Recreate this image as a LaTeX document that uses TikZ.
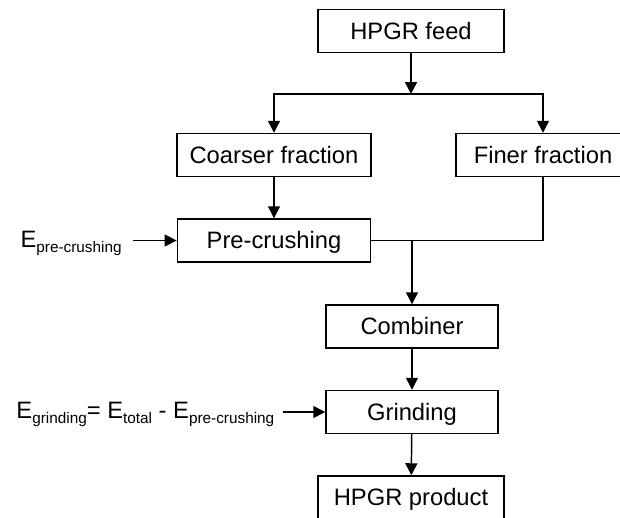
\documentclass[tikz,border=0pt]{standalone}
\usepackage{fontspec}
\setmainfont{Liberation Sans}
\usetikzlibrary{arrows.meta}
\newcommand{\esub}[1]{\raisebox{-3.75pt}{\fontsize{11.5}{12}\selectfont #1}}

\begin{document}
\begin{tikzpicture}[x=0.75pt,y=-0.75pt,>={Triangle[length=9pt,width=9pt]},
line width=1.1pt,
box/.style={draw,minimum height=32.25pt,inner sep=0pt,
text height=12.7pt,text depth=0pt,font=\fontsize{17.8}{21}\selectfont},
energy/.style={inner xsep=6pt,inner ysep=0pt,anchor=east,
text height=12.7pt,text depth=0pt,font=\fontsize{17.8}{21}\selectfont}]
\clip (0,0) rectangle (620,517);
% units
\node[box,minimum width=139.5pt] (feed) at (411,31) {HPGR feed};
\node[box,minimum width=145.5pt] (coarse) at (274,155) {Coarser fraction};
\node[box,minimum width=130.5pt] (fine) at (543,155) {Finer fraction};
\node[box,minimum width=145pt] (precrush) at (274,240.5) {Pre-crushing};
\node[box,minimum width=129pt] (combiner) at (412,326.5) {Combiner};
\node[box,minimum width=129pt] (grinding) at (412,412) {Grinding};
\node[box,minimum width=139.5pt] (product) at (411,497.5) {HPGR product};
% energy inputs
\node[energy,inner xsep=8pt] (epre) at (133,239) {E\esub{pre-crushing}};
\node[energy] (egrind) at (283,410) {E\esub{grinding}= E\esub{total} - E\esub{pre-crushing}};
\coordinate (split) at (411,94);
\coordinate (join) at (412,240.5);
% flows
\draw[->] (feed) -- (split);
\draw[->] (split) -| (coarse);
\draw[->] (split) -| (fine);
\draw[->] (coarse) -- (precrush);
\draw (precrush) -- (join);
\draw (fine) |- (join);
\draw[->] (join) -- (combiner);
\draw[->] (combiner) -- (grinding);
\draw[->] (grinding) -- (product);
\draw[->] (epre.east |- precrush) -- (precrush);
\draw[->] (egrind.east |- grinding) -- (grinding);
\end{tikzpicture}
\end{document}
